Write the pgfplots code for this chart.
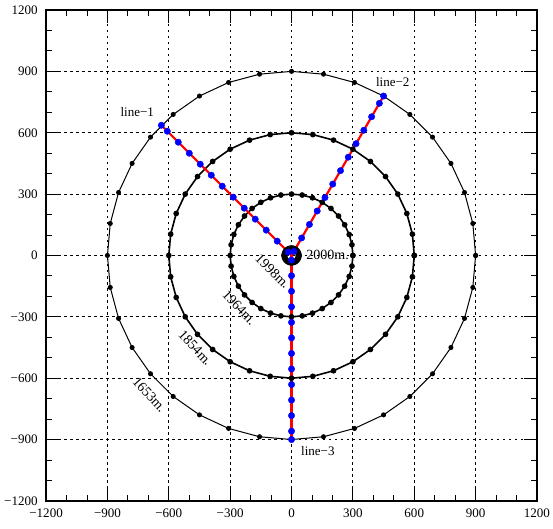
\documentclass[border=0pt]{standalone}
\usepackage{fontspec}
\setmainfont{Liberation Serif}
\usepackage{pgfplots}
\usetikzlibrary{calc}
\pgfplotsset{compat=1.18}
\newcommand{\lf}{\fontsize{13bp}{15bp}\selectfont}
\newcommand{\df}{\fontsize{14bp}{16bp}\selectfont}
\begin{document}
\begin{tikzpicture}
\begin{axis}[
  scale only axis, width=490bp, height=490bp,
  xmin=-1200, xmax=1200, ymin=-1200, ymax=1200,
  xtick={-1200,-900,-600,-300,0,300,600,900,1200},
  ytick={-1200,-900,-600,-300,0,300,600,900,1200},
  xticklabels={−1200,−900,−600,−300,0,300,600,900,1200},
  yticklabels={−1200,−900,−600,−300,0,300,600,900,1200},
  minor tick num=2,
  tick align=inside, tick pos=both,
  xticklabel pos=lower, yticklabel pos=left,
  major tick length=13bp, minor tick length=6bp,
  tick style={black, line width=0.9bp},
  axis line style={line width=2.5bp},
  grid=major,
  major grid style={black, dash pattern=on 2.5bp off 3.5bp, line width=0.9bp},
  ticklabel style={font=\lf},
  yticklabel style={xshift=-5bp},
  xticklabel style={yshift=-4bp},
  clip=false,
]
\coordinate (sw) at (rel axis cs:0,0);
\coordinate (ne) at (rel axis cs:1,1);
% circle r=900
\addplot[black, line width=1bp, mark=*, mark size=2bp] coordinates {
(900,0)(886.3,156.3)(845.7,307.8)(779.4,450)(689.4,578.5)(578.5,689.4)(450,779.4)(307.8,845.7)(156.3,886.3)
(0,900)(-156.3,886.3)(-307.8,845.7)(-450,779.4)(-578.5,689.4)(-689.4,578.5)(-779.4,450)(-845.7,307.8)(-886.3,156.3)
(-900,0)(-886.3,-156.3)(-845.7,-307.8)(-779.4,-450)(-689.4,-578.5)(-578.5,-689.4)(-450,-779.4)(-307.8,-845.7)(-156.3,-886.3)
(0,-900)(156.3,-886.3)(307.8,-845.7)(450,-779.4)(578.5,-689.4)(689.4,-578.5)(779.4,-450)(845.7,-307.8)(886.3,-156.3)(900,0)};
% circle r=600
\addplot[black, line width=1.6bp, mark=*, mark size=2bp] coordinates {
(600,0)(590.9,104.2)(563.8,205.2)(519.6,300)(459.6,385.7)(385.7,459.6)(300,519.6)(205.2,563.8)(104.2,590.9)
(0,600)(-104.2,590.9)(-205.2,563.8)(-300,519.6)(-385.7,459.6)(-459.6,385.7)(-519.6,300)(-563.8,205.2)(-590.9,104.2)
(-600,0)(-590.9,-104.2)(-563.8,-205.2)(-519.6,-300)(-459.6,-385.7)(-385.7,-459.6)(-300,-519.6)(-205.2,-563.8)(-104.2,-590.9)
(0,-600)(104.2,-590.9)(205.2,-563.8)(300,-519.6)(385.7,-459.6)(459.6,-385.7)(519.6,-300)(563.8,-205.2)(590.9,-104.2)(600,0)};
% circle r=300
\addplot[black, line width=1.6bp, mark=*, mark size=2bp] coordinates {
(300,0)(295.4,52.1)(281.9,102.6)(259.8,150)(229.8,192.8)(192.8,229.8)(150,259.8)(102.6,281.9)(52.1,295.4)
(0,300)(-52.1,295.4)(-102.6,281.9)(-150,259.8)(-192.8,229.8)(-229.8,192.8)(-259.8,150)(-281.9,102.6)(-295.4,52.1)
(-300,0)(-295.4,-52.1)(-281.9,-102.6)(-259.8,-150)(-229.8,-192.8)(-192.8,-229.8)(-150,-259.8)(-102.6,-281.9)(-52.1,-295.4)
(0,-300)(52.1,-295.4)(102.6,-281.9)(150,-259.8)(192.8,-229.8)(229.8,-192.8)(259.8,-150)(281.9,-102.6)(295.4,-52.1)(300,0)};
% circle r=35
\addplot[black, line width=1.6bp, mark=*, mark size=2.2bp] coordinates {
(35,0)(34.5,6.1)(32.9,12)(30.3,17.5)(26.8,22.5)(22.5,26.8)(17.5,30.3)(12,32.9)(6.1,34.5)
(0,35)(-6.1,34.5)(-12,32.9)(-17.5,30.3)(-22.5,26.8)(-26.8,22.5)(-30.3,17.5)(-32.9,12)(-34.5,6.1)
(-35,0)(-34.5,-6.1)(-32.9,-12)(-30.3,-17.5)(-26.8,-22.5)(-22.5,-26.8)(-17.5,-30.3)(-12,-32.9)(-6.1,-34.5)
(0,-35)(6.1,-34.5)(12,-32.9)(17.5,-30.3)(22.5,-26.8)(26.8,-22.5)(30.3,-17.5)(32.9,-12)(34.5,-6.1)(35,0)};
% blue points
\addplot[only marks, mark=*, mark size=3.2bp, blue] coordinates {
(-16.3,16.3)(-70,70)(-123.7,123.7)(-177.5,177.5)(-231.2,231.2)(-285,285)(-338.7,338.7)(-392.4,392.4)(-446.2,446.2)(-499.9,499.9)(-553.7,553.7)(-607.4,607.4)(-636.4,636.4)};
\addplot[only marks, mark=*, mark size=3.2bp, blue] coordinates {
(11.5,19.9)(49.5,85.7)(87.5,151.6)(125.5,217.4)(163.5,283.2)(201.5,349)(239.5,414.8)(277.5,480.6)(315.5,546.5)(353.5,612.3)(391.5,678.1)(429.5,743.9)(450,779.4)};
\addplot[only marks, mark=*, mark size=3.2bp, blue] coordinates {
(0,-23)(0,-99)(0,-175)(0,-251)(0,-327)(0,-403)(0,-479)(0,-555)(0,-631)(0,-707)(0,-783)(0,-859)(0,-900)};
% red lines
\addplot[red, line width=2.2bp] coordinates {(0,0)(-636.4,636.4)};
\addplot[red, line width=2.2bp] coordinates {(0,0)(450,779.4)};
\addplot[red, line width=2.2bp] coordinates {(0,0)(0,-900)};
% labels
\node[font=\lf] at (axis cs:-754,700) {line−1};
\node[font=\lf] at (axis cs:495,847) {line−2};
\node[font=\lf, anchor=west] at (axis cs:30,-958) {line−3};
\node[font=\df, anchor=west] at (axis cs:55,5) {2000m.};
\node[font=\df, rotate=-45] at (axis cs:-92,-77) {1998m.};
\node[font=\df, rotate=-47] at (axis cs:-255,-256) {1964m.};
\node[font=\df, rotate=-47] at (axis cs:-470,-452) {1854m.};
\node[font=\df, rotate=-48] at (axis cs:-695,-681) {1653m.};
\end{axis}
\pgfresetboundingbox
\path ($(sw)+(-46bp,-28bp)$) rectangle ($(ne)+(16bp,10bp)$);
\end{tikzpicture}
\end{document}
